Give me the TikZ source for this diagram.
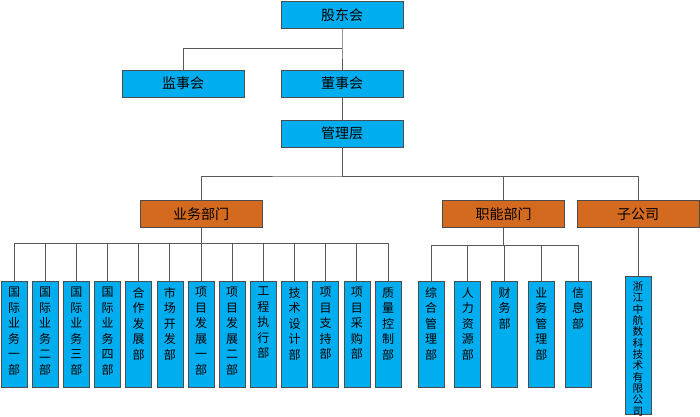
\documentclass[tikz,border=0pt]{standalone}
\usepackage{fontspec}
\setmainfont{Noto Sans CJK SC}
\begin{document}
\begin{tikzpicture}[x=0.75pt,y=-0.75pt,
  topbox/.style={draw=black!70,fill={rgb,255:red,0;green,174;blue,239},minimum width=91.5pt,minimum height=20pt,inner sep=0pt,font=\fontsize{10.5}{12}\selectfont},
  orbox/.style={draw=black!70,fill={rgb,255:red,212;green,106;blue,31},minimum width=91.5pt,minimum height=20.5pt,inner sep=0pt,font=\fontsize{10.5}{12}\selectfont},
  vbox/.style={draw=black!70,fill={rgb,255:red,0;green,174;blue,239},minimum width=19.5pt,minimum height=79.5pt,inner sep=0pt,anchor=north},
  vtext/.style={anchor=north,align=center,inner sep=0pt,font=\fontsize{9}{11.6}\selectfont},
  ln/.style={draw=black!65,line width=0.6pt}]
\useasboundingbox (0,0) rectangle (700,417);
\node[topbox] (gd) at (342,15) {股东会};
\node[topbox] (js) at (183,83.5) {监事会};
\node[topbox] (ds) at (342,83.5) {董事会};
\node[topbox] (gl) at (342,133.5) {管理层};
\node[orbox] (yw) at (201,214) {业务部门};
\node[orbox] (zn) at (503.5,214) {职能部门};
\node[orbox] (zg) at (638,214) {子公司};
\coordinate (j1) at (342,48);
\draw[ln] (gd.south) -- (j1) -- (ds.north);
\draw[ln] (j1) -| (js.north);
\draw[ln] (ds.south) -- (gl.north);
\coordinate (j2) at (342,176);
\draw[ln] (gl.south) -- (j2);
\draw[ln] (yw.north) |- (j2) -| (zg.north);
\draw[ln] (j2) -| (zn.north);
\foreach \i/\t in {1/国\\际\\业\\务\\一\\部,2/国\\际\\业\\务\\二\\部,3/国\\际\\业\\务\\三\\部,4/国\\际\\业\\务\\四\\部,5/合\\作\\发\\展\\部,6/市\\场\\开\\发\\部,7/项\\目\\发\\展\\一\\部,8/项\\目\\发\\展\\二\\部,9/工\\程\\执\\行\\部,10/技\\术\\设\\计\\部,11/项\\目\\支\\持\\部,12/项\\目\\采\\购\\部,13/质\\量\\控\\制\\部}{
  \node[vbox] (b\i) at ({14+(\i-1)*31.17},281) {};
  \node[vtext] (bl\i) at ([yshift=-4.5pt]b\i.north) {\t};
  \draw[ln] (b\i.north) -- ++(0,-38) coordinate (bt\i);
}
\draw[ln] (bt1) -- (bt13);
\draw[ln] (yw.south) -- (yw.south|-bt1);
\foreach \i/\t in {1/综\\合\\管\\理\\部,2/人\\力\\资\\源\\部,3/财\\务\\部,4/业\\务\\管\\理\\部,5/信\\息\\部}{
  \node[vbox] (f\i) at ({431+(\i-1)*36.75},281) {};
  \node[vtext] (fl\i) at ([yshift=-4.5pt]f\i.north) {\t};
  \draw[ln] (f\i.north) -- ++(0,-36) coordinate (ft\i);
}
\draw[ln] (ft1) -- (ft5);
\draw[ln] (zn.south) -- (zn.south|-ft1);
\node[vbox,minimum height=103.5pt] (s1) at (638,276) {};
\node[vtext,font=\fontsize{8}{8.5}\selectfont] (sl) at ([yshift=-4pt]s1.north) {浙\\江\\中\\航\\数\\科\\技\\术\\有\\限\\公\\司};
\draw[ln] (zg.south) -- (s1.north);
\end{tikzpicture}
\end{document}
